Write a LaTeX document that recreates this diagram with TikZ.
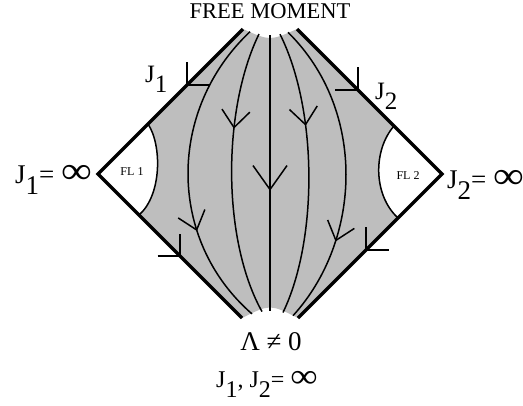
\documentclass[tikz,border=0pt]{standalone}
\usepackage{fontspec}
\setmainfont{Liberation Serif}
\usetikzlibrary{decorations.markings}
\definecolor{flowgray}{RGB}{190,190,190}
\newcommand{\dn}[1]{\raisebox{-0.42em}{#1}}
\newcommand{\infy}{\scalebox{1.6}[1.4]{∞}}
\tikzset{
  rim/.style={line width=3.3pt,line join=miter},
  flow/.style={line width=1.5pt},
  tip/.style={postaction={decorate},decoration={markings,
    mark=at position #1 with {\draw[flow] (-17,14) -- (0,0) -- (-17,-14);}}},
  bigtip/.style={postaction={decorate},decoration={markings,
    mark=at position #1 with {\draw[flow] (-24,17) -- (0,0) -- (-24,-17);}}},
  rimtips/.style 2 args={postaction={decorate},decoration={markings,
    mark=at position #1 with {\draw[flow] (-16,16) -- (0,0) -- (-16,-16);},
    mark=at position #2 with {\draw[flow] (-16,16) -- (0,0) -- (-16,-16);}}},
  lab/.style={font=\fontsize{27}{27}\selectfont,inner sep=0pt},
  small/.style={font=\fontsize{12}{12}\selectfont,inner sep=0pt}
}
\begin{document}
\begin{tikzpicture}[x=1pt,y=-1pt]
\useasboundingbox (0,0) rectangle (523,405);
% shaded region between the two fixed lines
\fill[flowgray] (243,29) .. controls (270,41) .. (297,29) -- (394,126)
  .. controls (373,150) and (373,195) .. (398,218) -- (298,318)
  .. controls (270,304) .. (242,318) -- (139,215)
  .. controls (162,195) and (162,145) .. (148,124) -- cycle;
\draw[flow] (148,124) .. controls (162,145) and (162,195) .. (139,215);
\draw[flow] (394,126) .. controls (373,150) and (373,195) .. (398,218);
% flow lines
\draw[flow,tip=0.68] (250,31.7) .. controls (167,110) and (167,240) .. (252,313.9);
\draw[flow,tip=0.34] (259,34) .. controls (222,110) and (222,240) .. (262,311.6);
\draw[flow,bigtip=0.56] (270,35) -- (270,311);
\draw[flow,tip=0.33] (280,34.2) .. controls (318,110) and (318,240) .. (283,312.5);
\draw[flow,tip=0.72] (288,32.3) .. controls (367,110) and (362,240) .. (293,315.7);
% boundary
\draw[rim,rimtips={0.194}{0.786}] (243,29) -- (98,174) -- (242,318);
\draw[rim,rimtips={0.211}{0.765}] (297,29) -- (442,174) -- (298,318);
% labels
\node[lab,font=\fontsize{22.5}{22.5}\selectfont,anchor=base] (free) at (270,18) {FREE MOMENT};
\node[lab,font=\fontsize{25}{25}\selectfont,anchor=base west] (j1) at (145,82) {J\dn{1}};
\node[lab,font=\fontsize{25}{25}\selectfont,anchor=base west] (j2) at (375,99) {J\dn{2}};
\node[lab,anchor=base east] (j1inf) at (92,183) {J\dn{1}= \infy};
\node[lab,anchor=base west] (j2inf) at (447,188) {J\dn{2}= \infy};
\node[small] (fl1) at (132,172) {FL 1};
\node[small] (fl2) at (408,176) {FL 2};
\node[lab,anchor=base] (lam) at (271,350) {Λ ≠ 0};
\node[lab,font=\fontsize{24}{24}\selectfont,anchor=base] (both) at (267,387) {J\dn{1}, J\dn{2}= \infy};
\end{tikzpicture}
\end{document}
